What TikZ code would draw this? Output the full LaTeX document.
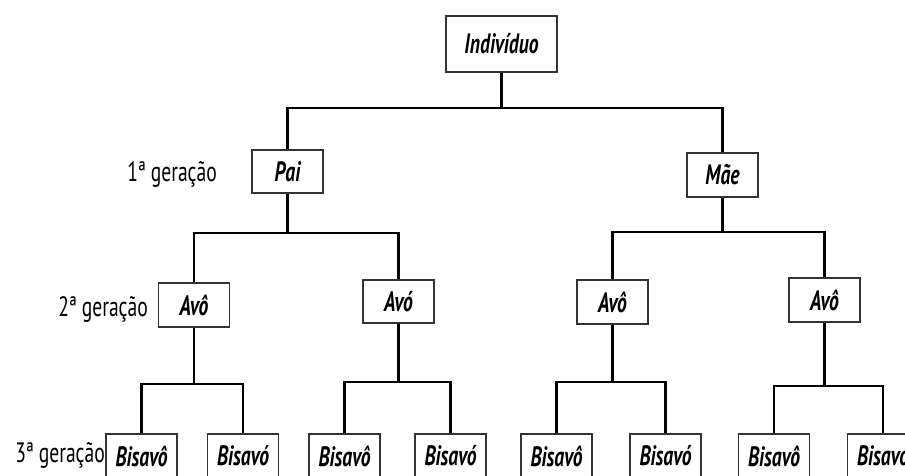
\documentclass[tikz,border=0pt]{standalone}
\usepackage{fontspec}
\setmainfont{PT Sans}
\newfontfamily\treefont[FakeStretch=0.7]{PT Sans}

\begin{document}
\begin{tikzpicture}[x=1pt,y=-1pt]

	\tikzstyle person=[draw=black!80, line width=1.2pt, inner sep=0pt, minimum width=71pt, minimum height=44pt, font=\treefont\bfseries\itshape\fontsize{28}{28}\selectfont];
	\tikzstyle generation=[inner sep=0pt, font=\treefont\fontsize{28}{28}\selectfont];
	\tikzstyle family lines=[line width=2.9pt];

	\useasboundingbox (0,0) rectangle (905,475);
	\clip (0,0) rectangle (905,475);

	% individuo
	\node[person, minimum width=111pt, minimum height=56pt] (ind) at (501.5,44) {Indivíduo};

	% 1a geracao
	\node[person, minimum height=43pt] (pai) at (287.5,171.5) {Pai};
	\node[person] (mae) at (722.5,175) {Mãe};
	\node[generation, anchor=base east] (g1) at (217,181) {1ª geração};

	% 2a geracao
	\node[person] (avoA) at (194,305) {Avô};
	\node[person, minimum height=43pt] (avoB) at (398.5,301.5) {Avó};
	\node[person] (avoC) at (612.5,302) {Avô};
	\node[person] (avoD) at (824.5,300) {Avô};
	\node[generation, anchor=base east] (g2) at (148,316) {2ª geração};

	% 3a geracao
	\node[person] (bisA) at (141.5,456) {Bisavô};
	\node[person] (bisB) at (243,456) {Bisavó};
	\node[person] (bisC) at (344.5,456) {Bisavô};
	\node[person] (bisD) at (450.5,456) {Bisavó};
	\node[person] (bisE) at (556.5,456) {Bisavô};
	\node[person] (bisF) at (665.5,456) {Bisavó};
	\node[person] (bisG) at (774,456) {Bisavô};
	\node[person] (bisH) at (883,456) {Bisavó};
	\node[generation, anchor=base east] (g3) at (105,462) {3ª geração};

	\coordinate (j0) at (501.5,108);
	\coordinate (j1) at (287.5,233);
	\coordinate (j2) at (722.5,232);
	\coordinate (j3) at (194,384);
	\coordinate (j4) at (398.5,382);
	\coordinate (j5) at (612.5,382);
	\coordinate (j6) at (824.5,386);

	\draw[family lines] (ind.south) -- (j0);
	\draw[family lines] (pai.north) |- (j0) -| (mae.north);

	\draw[family lines] (pai.south) -- (j1);
	\draw[family lines] (avoA.north) |- (j1) -| (avoB.north);
	\draw[family lines] (mae.south) -- (j2);
	\draw[family lines] (avoC.north) |- (j2) -| (avoD.north);

	\draw[family lines] (avoA.south) -- (j3);
	\draw[family lines] (bisA.north) |- (j3) -| (bisB.north);
	\draw[family lines] (avoB.south) -- (j4);
	\draw[family lines] (bisC.north) |- (j4) -| (bisD.north);
	\draw[family lines] (avoC.south) -- (j5);
	\draw[family lines] (bisE.north) |- (j5) -| (bisF.north);
	\draw[family lines] (avoD.south) -- (j6);
	\draw[family lines] (bisG.north) |- (j6) -| (bisH.north);

\end{tikzpicture}
\end{document}
